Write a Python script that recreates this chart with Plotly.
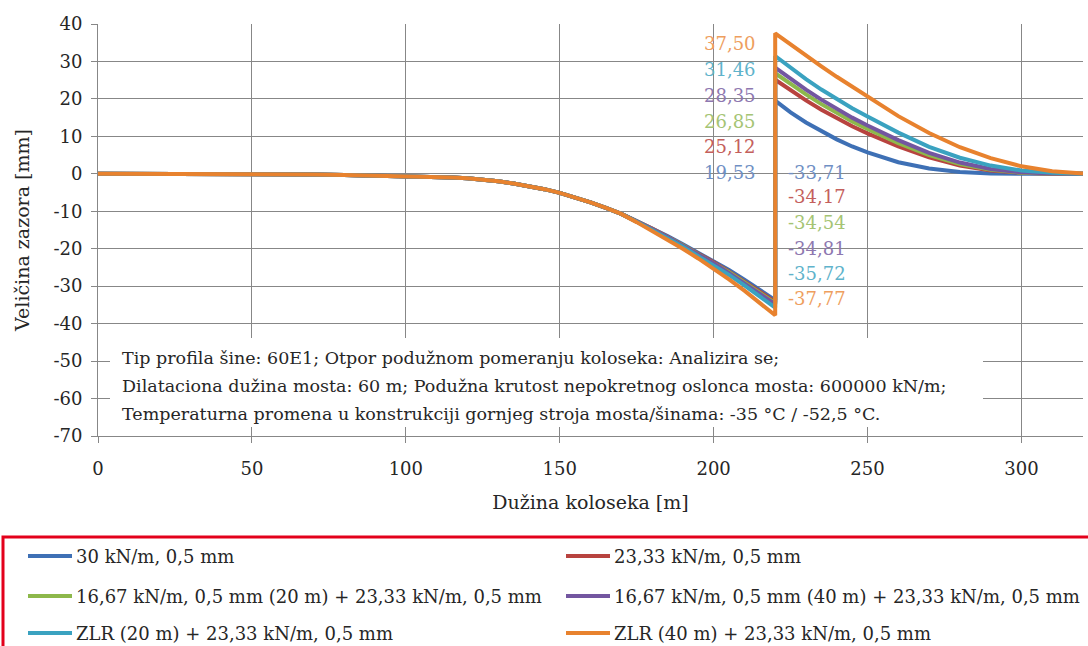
import plotly.graph_objects as go

# ---------------- data ----------------
x_left = [0, 10, 20, 30, 40, 50, 60, 70, 80, 90, 100,
          110, 115, 120, 125, 130, 135, 140, 145, 150, 155, 160, 165, 170,
          175, 180, 185, 190, 195, 200, 205, 210, 215, 220]
x_right = [220, 225, 230, 235, 240, 245, 250, 260, 270, 280, 290, 300, 310, 320]

common_left = [0, 0, 0, 0, 0, -0.05, -0.1, -0.2, -0.3, -0.45, -0.6,
               -0.8, -1.0, -1.2, -1.55, -2.0, -2.6, -3.3, -4.1, -5.1, -6.3, -7.6, -9.1, -10.7]

blue_tail = [-12.6, -14.5, -16.6, -18.8, -21.0, -23.3, -25.7, -28.3, -30.9, -33.71]
red_tail = [-12.7, -14.6, -16.8, -19.0, -21.3, -23.6, -26.1, -28.7, -31.4, -34.17]
green_tail = [-12.7, -14.7, -16.9, -19.1, -21.4, -23.8, -26.3, -29.0, -31.7, -34.54]
purple_tail = [-12.7, -14.7, -16.9, -19.2, -21.5, -23.9, -26.5, -29.2, -31.9, -34.81]
cyan_tail = [-12.8, -14.9, -17.2, -19.5, -21.9, -24.4, -27.0, -29.8, -32.7, -35.72]
orange_tail = [-12.9, -15.2, -17.6, -20.0, -22.6, -25.3, -28.2, -31.2, -34.4, -37.77]

blue_right = [19.53, 16.4, 13.7, 11.3, 9.2, 7.3, 5.7, 3.1, 1.4, 0.5, 0.1, 0, 0, 0]
red_right = [25.12, 22.2, 19.6, 17.1, 14.8, 12.7, 10.8, 7.3, 4.4, 2.2, 0.9, 0.3, 0.05, 0]
green_right = [26.85, 23.9, 21.2, 18.6, 16.2, 14.0, 12.0, 8.2, 5.0, 2.6, 1.1, 0.3, 0.1, 0]
purple_right = [28.35, 25.3, 22.5, 19.8, 17.3, 15.0, 12.9, 9.0, 5.6, 3.0, 1.3, 0.4, 0.1, 0]
cyan_right = [31.46, 28.3, 25.3, 22.5, 19.9, 17.5, 15.3, 11.0, 7.2, 4.3, 2.2, 0.9, 0.3, 0.05]
orange_right = [37.5, 34.5, 31.6, 28.7, 25.9, 23.2, 20.5, 15.4, 10.9, 7.1, 4.2, 2.0, 0.7, 0.1]

series_names = [
    "30 kN/m, 0,5 mm",
    "23,33 kN/m, 0,5 mm",
    "16,67 kN/m, 0,5 mm (20 m) + 23,33 kN/m, 0,5 mm",
    "16,67 kN/m, 0,5 mm (40 m) + 23,33 kN/m, 0,5 mm",
    "ZLR (20 m) + 23,33 kN/m, 0,5 mm",
    "ZLR (40 m) + 23,33 kN/m, 0,5 mm",
]
tails = [blue_tail, red_tail, green_tail, purple_tail, cyan_tail, orange_tail]
rights = [blue_right, red_right, green_right, purple_right, cyan_right, orange_right]

x_ticks = [0, 50, 100, 150, 200, 250, 300]
y_ticks = [40, 30, 20, 10, 0, -10, -20, -30, -40, -50, -60, -70]

info_lines = [
    "Tip profila šine: 60E1; Otpor podužnom pomeranju koloseka: Analizira se;",
    "Dilataciona dužina mosta: 60 m; Podužna krutost nepokretnog oslonca mosta: 600000 kN/m;",
    "Temperaturna promena u konstrukciji gornjeg stroja mosta/šinama: -35 °C / -52,5 °C.",
]

# ---------------- style ----------------
colors = ["#3E70B5", "#B8433F", "#8DB84B", "#7356A0", "#3AA2C0", "#E8822E"]
label_colors = ["#6F8FC4", "#C4605C", "#A5C474", "#8E78B0", "#5FB3CB", "#EE9E5E"]
SERIF = "DejaVu Serif"
TXT = "#262626"

peak_label_y = [0.3, 7.2, 13.9, 20.8, 27.8, 34.7]
min_label_y = [0.3, -6.1, -13.1, -20.0, -26.7, -33.4]

W, H = 1088, 646
ML, MR, MT, MB = 98, 5, 24, 210
PW, PH = W - ML - MR, H - MT - MB


def px2paper(px, py):
    return (px - ML) / PW, (H - MB - py) / PH


fig = go.Figure()
for i in range(6):
    xs = x_left + x_right
    ys = common_left + tails[i] + rights[i]
    fig.add_trace(go.Scatter(x=xs, y=ys, mode="lines", name=series_names[i],
                             line=dict(color=colors[i], width=4), showlegend=False))

annotations = []
for i in range(6):
    peak = rights[i][0]
    low = tails[i][-1]
    annotations.append(dict(x=214.5, y=peak_label_y[i], xref="x", yref="y",
                            text=f"{peak:.2f}".replace(".", ","), showarrow=False,
                            xanchor="right", yanchor="middle",
                            font=dict(family=SERIF, size=18, color=label_colors[i])))
    annotations.append(dict(x=243.5, y=min_label_y[i], xref="x", yref="y",
                            text=f"{low:.2f}".replace(".", ","), showarrow=False,
                            xanchor="right", yanchor="middle",
                            font=dict(family=SERIF, size=18, color=label_colors[i])))

shapes = []
bx0, by0 = px2paper(110, 338)
bx1, by1 = px2paper(983, 427)
shapes.append(dict(type="rect", xref="paper", yref="paper", x0=bx0, y0=by1, x1=bx1, y1=by0,
                   fillcolor="white", line=dict(width=0), layer="above"))
for k, line in enumerate(info_lines):
    tx, ty = px2paper(120, 358 + 28 * k)
    annotations.append(dict(x=tx, y=ty, xref="paper", yref="paper", text=line, showarrow=False,
                            xanchor="left", yanchor="middle",
                            font=dict(family=SERIF, size=17.5, color=TXT)))

# legend box
lx0, ly0 = px2paper(3, 537)
lx1, ly1 = px2paper(1095, 660)
shapes.append(dict(type="rect", xref="paper", yref="paper", x0=lx0, y0=ly1, x1=lx1, y1=ly0,
                   line=dict(color="#E3001B", width=3), fillcolor="rgba(0,0,0,0)"))
col_px = [28, 566]
row_py = [556, 596, 633]
for i in range(6):
    r, c = divmod(i, 2)
    sx0, sy = px2paper(col_px[c], row_py[r])
    sx1, _ = px2paper(col_px[c] + 44, row_py[r])
    shapes.append(dict(type="line", xref="paper", yref="paper", x0=sx0, x1=sx1, y0=sy, y1=sy,
                       line=dict(color=colors[i], width=4)))
    tx, _ = px2paper(col_px[c] + 46, row_py[r])
    annotations.append(dict(x=tx, y=sy, xref="paper", yref="paper", text=series_names[i],
                            showarrow=False, xanchor="left", yanchor="middle",
                            font=dict(family=SERIF, size=18, color=TXT)))

fig.update_layout(
    width=W, height=H,
    margin=dict(l=ML, r=MR, t=MT, b=MB, autoexpand=False),
    paper_bgcolor="white", plot_bgcolor="white",
    shapes=shapes, annotations=annotations,
    font=dict(family=SERIF, size=18, color=TXT),
)
fig.update_xaxes(range=[0, 320], tickvals=x_ticks, ticktext=[str(v) for v in x_ticks],
                 showgrid=True, gridcolor="#878787", gridwidth=1,
                 showline=True, linecolor="#878787", linewidth=1,
                 ticks="outside", ticklen=6, tickcolor="#878787", automargin=False,
                 ticklabelstandoff=10,
                 zeroline=False, tickfont=dict(family=SERIF, size=18, color=TXT),
                 title=dict(text="Dužina koloseka [m]", font=dict(family=SERIF, size=19, color=TXT),
                            standoff=18))
fig.update_yaxes(range=[-70, 40], tickvals=y_ticks, ticktext=[str(v) for v in y_ticks],
                 showgrid=True, gridcolor="#878787", gridwidth=1,
                 showline=True, linecolor="#878787", linewidth=1,
                 ticks="outside", ticklen=6, tickcolor="#878787", automargin=False,
                 ticklabelstandoff=5,
                 zeroline=False, tickfont=dict(family=SERIF, size=18, color=TXT),
                 title=dict(text="Veličina zazora [mm]", font=dict(family=SERIF, size=19, color=TXT),
                            standoff=18))

fig.write_html("out.html", config={"displayModeBar": False},
               post_script="document.body.style.margin='0';")
